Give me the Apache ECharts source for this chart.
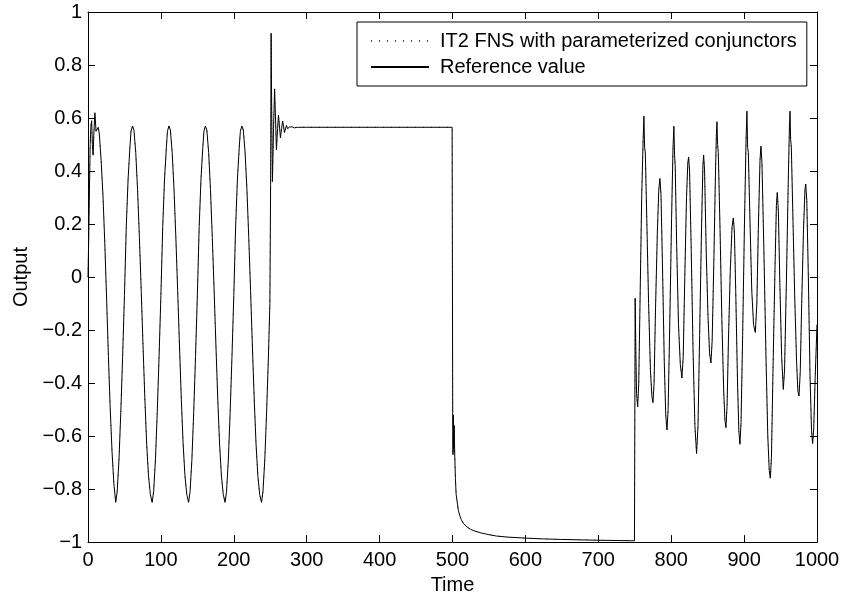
<!DOCTYPE html>
<html>
<head>
<meta charset="utf-8">
<script src="https://cdn.jsdelivr.net/npm/echarts@6/dist/echarts.min.js"></script>
<style>html,body{margin:0;padding:0;background:#fff}#c{width:843px;height:600px}</style>
</head>
<body>
<div id="c"></div>
<script>
// ---- data ----
const seriesNames = ['IT2 FNS with parameterized conjunctors', 'Reference value'];
const xTicks = [0,100,200,300,400,500,600,700,800,900,1000];
const yTicks = [-1,-0.8,-0.6,-0.4,-0.2,0,0.2,0.4,0.6,0.8,1];

const seg1Time = [0,1,2,3,4,5,6,7,8,9.5,11,12.5,14,15.5,18,20.5,23,25.5,28,30.5,33,35.5,38,
  40,42.5,45,47.5,50,52.5,55,57.5,59,61,
  63,65.5,68,70.5,73,75.5,78,80.5,83,85.5,88,
  90,92.5,95,97.5,100,102.5,105,107.5,109,111,
  113,115.5,118,120.5,123,125.5,128,130.5,133,135.5,138,
  140,142.5,145,147.5,150,152.5,155,157.5,159,161,
  163,165.5,168,170.5,173,175.5,178,180.5,183,185.5,188,
  190,192.5,195,197.5,200,202.5,205,207.5,209,211,
  213,215.5,218,220.5,223,225.5,228,230.5,233,235.5,238];
const seg1Ref = [0.00,0.15,0.33,0.50,0.57,0.59,0.50,0.46,0.54,0.62,0.55,0.545,0.565,0.54,0.44,0.31,0.13,-0.08,-0.30,-0.50,-0.66,-0.78,-0.85,
  -0.81,-0.69,-0.51,-0.30,-0.07,0.19,0.37,0.49,0.55,0.57,
  0.555,0.47,0.33,0.15,-0.05,-0.26,-0.46,-0.63,-0.75,-0.82,-0.85,
  -0.81,-0.69,-0.51,-0.30,-0.07,0.19,0.37,0.49,0.55,0.57,
  0.555,0.47,0.33,0.15,-0.05,-0.26,-0.46,-0.63,-0.75,-0.82,-0.85,
  -0.81,-0.69,-0.51,-0.30,-0.07,0.19,0.37,0.49,0.55,0.57,
  0.555,0.47,0.33,0.15,-0.05,-0.26,-0.46,-0.63,-0.75,-0.82,-0.85,
  -0.81,-0.69,-0.51,-0.30,-0.07,0.19,0.37,0.49,0.55,0.57,
  0.555,0.47,0.33,0.15,-0.05,-0.26,-0.46,-0.63,-0.75,-0.82,-0.85];

const seg2Time = [240,242.5,245,247.5,249.5,250.5,251.2,252,253,254.5,256,257.2,258.5,260,261.3,262.6,264,265.5,267,268.2,
  269.5,271,272.3,273.7,275,276.5,278,280,283,287,300,350,400,450,499.5];
const seg2Ref = [-0.81,-0.69,-0.51,-0.30,-0.10,0.35,0.92,0.62,0.36,0.56,0.71,0.60,0.48,0.56,0.61,0.57,0.525,0.56,0.588,0.57,
  0.545,0.56,0.572,0.56,0.555,0.566,0.56,0.567,0.563,0.565,0.565,0.565,0.565,0.565,0.565];

const seg3Time = [500,500.3,500.7,501.2,501.7,502.3,503,504,505,506,507,508,510,512,515,520,525,530,540,550,560,575,600,625,650,700,749.6];
const seg3Ref = [0.565,-0.51,-0.67,-0.52,-0.65,-0.56,-0.66,-0.76,-0.82,-0.84,-0.86,-0.88,-0.90,-0.915,-0.93,-0.943,-0.952,-0.958,-0.966,-0.972,-0.977,-0.981,-0.985,-0.988,-0.99,-0.993,-0.995];

const seg4Time = [750,750.6,751.5,752.5,754,755.5,757.5,759.5,761.5,762.6,763.5,764.5,766.5,769,771.5,773.5,775,776.5,778.5,781,
  783,784.5,786,788,790.5,792.5,794.2,795.8,798,800.5,802.5,803.7,804.6,805.5,807.5,810,812.5,814.7,816.5,818.5,
  821,822.8,823.9,825.2,827.5,830,832.5,834.8,836.8,839,841.5,843.5,844.5,845.8,848,850.5,852.7,854.5,856.2,858.5,
  860.8,862,862.8,863.6,864.6,867,869.5,872,873.7,875.1,876.7,878.5,881,883.5,885.2,886.7,888.5,891,892.8,894.3,
  895.8,898,900.5,902.7,903.9,904.8,905.8,908,910.5,913,915.4,917.5,919.5,921.8,923.1,924.5,927,930,932.5,934.5,
  936,937.5,940,942.5,944.3,945.5,947,949,951.5,953.8,955.5,958,960.5,962.2,963,963.8,964.8,967,969.5,972,
  973.8,975.3,977,979,981.5,983.5,984.5,986,988,990.5,992.5,994,995.5,997.5,1000];
const seg4Ref = [-0.99,-0.08,-0.28,-0.44,-0.49,-0.40,-0.05,0.30,0.52,0.607,0.49,0.47,0.22,-0.10,-0.35,-0.45,-0.474,-0.40,-0.12,0.17,
  0.33,0.372,0.31,0.05,-0.32,-0.52,-0.577,-0.50,-0.18,0.22,0.49,0.569,0.46,0.42,0.12,-0.18,-0.33,-0.381,-0.30,-0.02,
  0.30,0.43,0.453,0.40,0.10,-0.28,-0.56,-0.666,-0.56,-0.22,0.17,0.42,0.46,0.40,0.10,-0.15,-0.29,-0.324,-0.24,0.06,
  0.40,0.54,0.586,0.50,0.47,0.18,-0.16,-0.43,-0.54,-0.568,-0.48,-0.24,0.02,0.19,0.223,0.17,-0.05,-0.40,-0.58,-0.631,
  -0.55,-0.22,0.20,0.52,0.626,0.49,0.47,0.22,-0.05,-0.18,-0.209,-0.10,0.18,0.44,0.494,0.43,0.12,-0.30,-0.60,-0.73,
  -0.759,-0.68,-0.30,0.05,0.27,0.319,0.25,-0.02,-0.30,-0.424,-0.35,-0.02,0.35,0.57,0.626,0.52,0.49,0.22,-0.08,-0.32,
  -0.43,-0.449,-0.36,-0.10,0.18,0.33,0.351,0.29,0.02,-0.38,-0.58,-0.628,-0.57,-0.38,-0.18];

// points where the IT2 FNS output differs visibly from the reference
const fnsDiffTime = [9.5, 251.2, 762.6, 803.7, 862.8, 903.9, 963];
const fnsDiffValue = [0.60, 0.90, 0.55, 0.52, 0.55, 0.57, 0.57];

// ---- build series ----
const time = [].concat(seg1Time, seg2Time, seg3Time, seg4Time);
const refValue = [].concat(seg1Ref, seg2Ref, seg3Ref, seg4Ref);
const fnsValue = time.map((t, i) => {
  const k = fnsDiffTime.indexOf(t);
  return k >= 0 ? fnsDiffValue[k] : refValue[i];
});
const refData = time.map((t, i) => [t, refValue[i]]);
const fnsData = time.map((t, i) => [t, fnsValue[i]]);

const FONT = "'Liberation Sans', Arial, Helvetica, sans-serif";
const fmtY = v => {
  if (Math.abs(v) < 1e-9) return '0';
  const s = Math.abs(v).toFixed(1).replace(/\.0$/, '');
  return (v < 0 ? '\u2212' : '') + s;
};
const axisCommon = {
  axisLine: { show: true, onZero: false, lineStyle: { color: '#000', width: 1 } },
  axisTick: { show: true, inside: true, length: 7, lineStyle: { color: '#000', width: 1 } },
  splitLine: { show: false },
};

const chart = echarts.init(document.getElementById('c'), null, { renderer: 'canvas' });
chart.setOption({
  animation: false,
  backgroundColor: '#fff',
  textStyle: { fontFamily: FONT },
  grid: { left: 88, right: 26, top: 12, bottom: 56, containLabel: false },
  xAxis: [
    Object.assign({
      type: 'value', min: 0, max: 1000, interval: 100, position: 'bottom',
      name: 'Time', nameLocation: 'middle', nameGap: 31,
      nameTextStyle: { color: '#000', fontSize: 20, fontFamily: FONT },
      axisLabel: { color: '#000', fontSize: 20, fontFamily: FONT, margin: 8,
        formatter: v => xTicks.indexOf(v) >= 0 ? String(v) : '' },
    }, axisCommon),
    Object.assign({
      type: 'value', min: 0, max: 1000, interval: 100, position: 'top',
      axisLabel: { show: false },
    }, axisCommon),
  ],
  yAxis: [
    Object.assign({
      type: 'value', min: -1, max: 1, interval: 0.2, position: 'left',
      name: 'Output', nameLocation: 'middle', nameGap: 56, nameRotate: 90,
      nameTextStyle: { color: '#000', fontSize: 20, fontFamily: FONT },
      axisLabel: { color: '#000', fontSize: 20, fontFamily: FONT, margin: 6, formatter: fmtY },
    }, axisCommon),
    Object.assign({
      type: 'value', min: -1, max: 1, interval: 0.2, position: 'right',
      axisLabel: { show: false },
    }, axisCommon),
  ],
  legend: {
    orient: 'vertical', left: 357, top: 22,
    itemWidth: 58, itemHeight: 14, itemGap: 6,
    padding: [9, 10, 9, 13],
    borderColor: '#000', borderWidth: 1, backgroundColor: '#fff',
    itemStyle: { opacity: 0 },
    textStyle: { color: '#000', fontSize: 20, fontFamily: FONT, padding: [0, 0, 0, 6] },
    data: seriesNames,
  },
  series: [
    {
      name: seriesNames[0], type: 'line', data: fnsData, symbol: 'none', showSymbol: false,
      lineStyle: { color: '#555', width: 1, type: [1, 7] }, itemStyle: { color: '#555' }, z: 2,
    },
    {
      name: seriesNames[1], type: 'line', data: refData, symbol: 'none', showSymbol: false,
      lineStyle: { color: '#000', width: 1, type: 'solid' }, itemStyle: { color: '#000' }, z: 3,
    },
  ],
});
</script>
</body>
</html>
